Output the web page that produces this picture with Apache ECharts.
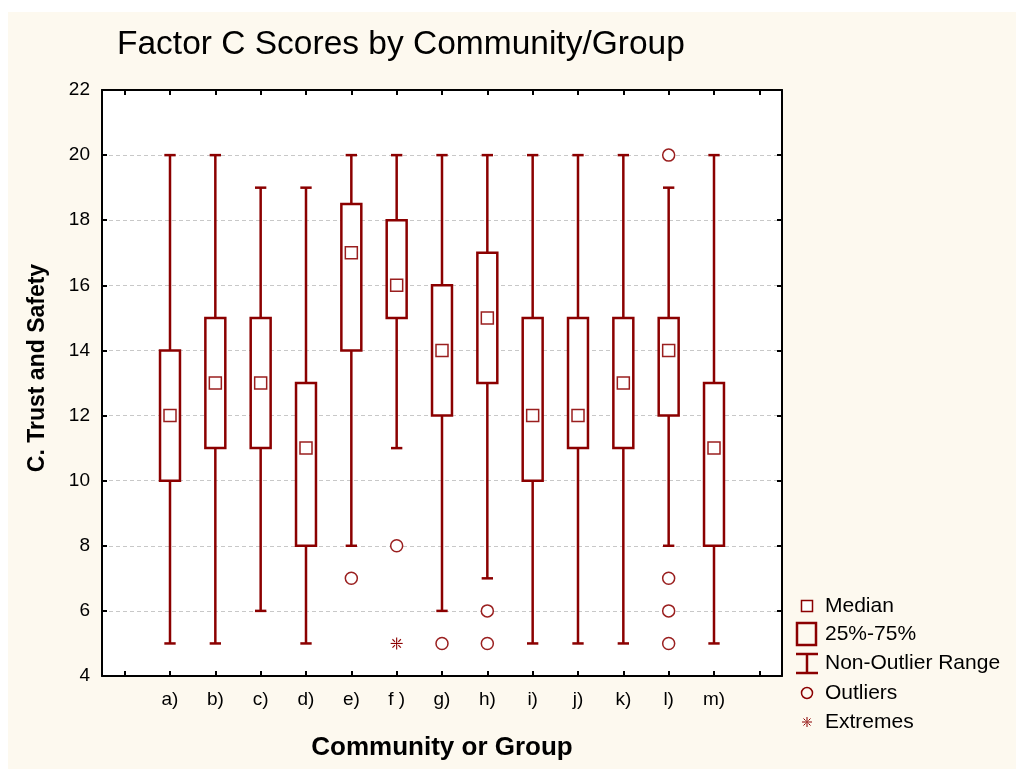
<!DOCTYPE html>
<html>
<head>
<meta charset="utf-8">
<script src="https://cdn.jsdelivr.net/npm/echarts@6/dist/echarts.min.js"></script>
<style>
html,body{margin:0;padding:0;background:#ffffff;}
#wrap{position:relative;width:1016px;height:769px;background:#ffffff;overflow:hidden;}
#cream{position:absolute;left:8px;top:12px;width:1008px;height:757px;background:#fdf9ef;}
#chart{position:absolute;left:0;top:0;width:1016px;height:769px;}
</style>
</head>
<body>
<div id="wrap"><div id="cream"></div><div id="chart"></div></div>
<script>
// ---- data ----
const categories = ['a)', 'b)', 'c)', 'd)', 'e)', 'f )', 'g)', 'h)', 'i)', 'j)', 'k)', 'l)', 'm)'];
const whiskerLow  = [5, 5, 6, 5, 8, 11, 6, 7, 5, 5, 5, 8, 5];
const q1          = [10, 11, 11, 8, 14, 15, 12, 13, 10, 11, 11, 12, 8];
const medians     = [12, 13, 13, 11, 17, 16, 14, 15, 12, 12, 13, 14, 11];
const q3          = [14, 15, 15, 13, 18.5, 18, 16, 17, 15, 15, 15, 15, 13];
const whiskerHigh = [20, 20, 19, 19, 20, 20, 20, 20, 20, 20, 20, 19, 20];
const outliers = [['e)', 7], ['f )', 8], ['g)', 5], ['h)', 6], ['h)', 5], ['l)', 20], ['l)', 7], ['l)', 6], ['l)', 5]];
const extremes = [['f )', 5]];
const yTicks = {min: 4, max: 22, step: 2};
const legendLabels = ['Median', '25%-75%', 'Non-Outlier Range', 'Outliers', 'Extremes'];

// ---- build ----
const RED = '#8b0000';
const FONT = 'Liberation Sans, Arial, sans-serif';
const axisCats = [''].concat(categories, ['']);
const idx = c => categories.indexOf(c) + 1;

const boxData = categories.map((c, i) => [i + 1, whiskerLow[i], q1[i], q3[i], whiskerHigh[i]]);
const medData = categories.map((c, i) => [i + 1, medians[i]]);
const outData = outliers.map(o => [idx(o[0]), o[1]]);
const extData = extremes.map(o => [idx(o[0]), o[1]]);

function asterisk(cx, cy, r, lw) {
  const d = r * 0.7;
  const s = {stroke: RED, lineWidth: lw};
  return [
    {type: 'line', shape: {x1: cx, y1: cy - r, x2: cx, y2: cy + r}, style: s},
    {type: 'line', shape: {x1: cx - r, y1: cy, x2: cx + r, y2: cy}, style: s},
    {type: 'line', shape: {x1: cx - d, y1: cy - d, x2: cx - d * 0.4, y2: cy - d * 0.4}, style: s},
    {type: 'line', shape: {x1: cx + d, y1: cy - d, x2: cx + d * 0.4, y2: cy - d * 0.4}, style: s},
    {type: 'line', shape: {x1: cx - d, y1: cy + d, x2: cx - d * 0.4, y2: cy + d * 0.4}, style: s},
    {type: 'line', shape: {x1: cx + d, y1: cy + d, x2: cx + d * 0.4, y2: cy + d * 0.4}, style: s}
  ];
}

const chart = echarts.init(document.getElementById('chart'), null, {renderer: 'canvas'});

const axisCommonX = {
  type: 'category', data: axisCats, boundaryGap: true,
  axisLine: {show: true, lineStyle: {color: '#000', width: 2}},
  axisTick: {show: true, inside: true, alignWithLabel: true, interval: 0, length: 5, lineStyle: {color: '#000', width: 2}},
  splitLine: {show: false}
};
const axisCommonY = {
  type: 'value', min: yTicks.min, max: yTicks.max, interval: yTicks.step,
  axisLine: {show: true, lineStyle: {color: '#000', width: 2}},
  axisTick: {show: true, inside: true, length: 5, lineStyle: {color: '#000', width: 2}}
};

const lgX = 807, lgTextX = 825, lgY = [606, 634, 663, 693, 722];
const legendGraphics = [
  {type: 'rect', shape: {x: lgX - 5.5, y: lgY[0] - 5.5, width: 11, height: 11}, style: {fill: '#fff', stroke: RED, lineWidth: 1.5}},
  {type: 'rect', shape: {x: 797, y: 623, width: 19, height: 22}, style: {fill: 'none', stroke: RED, lineWidth: 2.5}},
  {type: 'line', shape: {x1: lgX, y1: 653, x2: lgX, y2: 674}, style: {stroke: RED, lineWidth: 2.5}},
  {type: 'line', shape: {x1: 796, y1: 654, x2: 818, y2: 654}, style: {stroke: RED, lineWidth: 2.5}},
  {type: 'line', shape: {x1: 796, y1: 673, x2: 818, y2: 673}, style: {stroke: RED, lineWidth: 2.5}},
  {type: 'circle', shape: {cx: lgX, cy: lgY[3], r: 5.5}, style: {fill: 'none', stroke: RED, lineWidth: 1.5}}
].concat(asterisk(lgX, lgY[4], 5, 1)).concat(legendLabels.map((t, i) => ({
  type: 'text', x: lgTextX, y: lgY[i],
  style: {text: t, fill: '#000', font: '21px ' + FONT, textAlign: 'left', textVerticalAlign: 'middle'}
})));

chart.setOption({
  backgroundColor: 'transparent',
  animation: false,
  textStyle: {fontFamily: FONT},
  grid: {left: 102, top: 90, right: 234, bottom: 93, show: true, backgroundColor: '#ffffff', borderWidth: 0},
  xAxis: [
    Object.assign({}, axisCommonX, {position: 'bottom', axisLabel: {show: true, interval: 0, color: '#000', fontSize: 19, fontFamily: FONT, margin: 14}}),
    Object.assign({}, axisCommonX, {position: 'top', axisLabel: {show: false}})
  ],
  yAxis: [
    Object.assign({}, axisCommonY, {position: 'left', axisLabel: {color: '#000', fontSize: 19, fontFamily: FONT, margin: 12},
      splitLine: {show: true, lineStyle: {color: '#c8c8c8', width: 1, type: [4, 3]}}}),
    Object.assign({}, axisCommonY, {position: 'right', axisLabel: {show: false}, splitLine: {show: false}})
  ],
  graphic: [
    {type: 'text', left: 117, top: 28, style: {text: 'Factor C Scores by Community/Group', fill: '#000', font: '33.5px ' + FONT}},
    {type: 'text', x: 38, y: 368, rotation: Math.PI / 2,
      style: {text: 'C. Trust and Safety', fill: '#000', font: 'bold 23px ' + FONT, textAlign: 'center', textVerticalAlign: 'middle'}},
    {type: 'text', x: 442, y: 748,
      style: {text: 'Community or Group', fill: '#000', font: 'bold 26px ' + FONT, textAlign: 'center', textVerticalAlign: 'middle'}}
  ].concat(legendGraphics),
  series: [
    {
      type: 'custom', xAxisIndex: 0, yAxisIndex: 0, data: boxData, z: 3,
      renderItem: function (params, api) {
        const x = api.value(0);
        const pLow = api.coord([x, api.value(1)]);
        const pQ1 = api.coord([x, api.value(2)]);
        const pQ3 = api.coord([x, api.value(3)]);
        const pHigh = api.coord([x, api.value(4)]);
        const band = api.size([1, 0])[0];
        const bw = band * 0.44, cw = band * 0.25;
        const cx = pLow[0];
        return {type: 'group', children: [
          {type: 'line', shape: {x1: cx, y1: pLow[1], x2: cx, y2: pHigh[1]}, style: {stroke: RED, lineWidth: 2.5}},
          {type: 'line', shape: {x1: cx - cw / 2, y1: pLow[1], x2: cx + cw / 2, y2: pLow[1]}, style: {stroke: RED, lineWidth: 2.5}},
          {type: 'line', shape: {x1: cx - cw / 2, y1: pHigh[1], x2: cx + cw / 2, y2: pHigh[1]}, style: {stroke: RED, lineWidth: 2.5}},
          {type: 'rect', shape: {x: cx - bw / 2, y: pQ3[1], width: bw, height: pQ1[1] - pQ3[1]}, style: {fill: '#fff', stroke: RED, lineWidth: 2.5}}
        ]};
      }
    },
    {
      type: 'scatter', xAxisIndex: 0, yAxisIndex: 0, data: medData, z: 4,
      symbol: 'rect', symbolSize: 12,
      itemStyle: {color: '#fff', borderColor: '#9a1f1f', borderWidth: 1.5, opacity: 1}
    },
    {
      type: 'scatter', xAxisIndex: 0, yAxisIndex: 0, data: outData, z: 4,
      symbol: 'circle', symbolSize: 12,
      itemStyle: {color: '#fff', borderColor: '#9a1f1f', borderWidth: 1.5, opacity: 1}
    },
    {
      type: 'custom', xAxisIndex: 0, yAxisIndex: 0, data: extData, z: 4,
      renderItem: function (params, api) {
        const p = api.coord([api.value(0), api.value(1)]);
        return {type: 'group', children: asterisk(p[0], p[1], 6, 1.1)};
      }
    }
  ]
});
</script>
</body>
</html>
